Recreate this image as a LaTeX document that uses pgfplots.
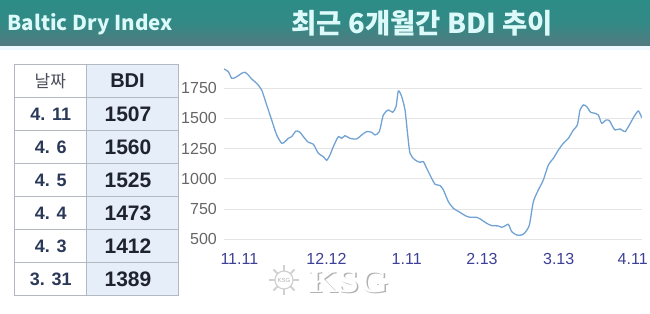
\documentclass[border=0pt]{standalone}
\usepackage{fontspec}
\usepackage{pgfplots}
\pgfplotsset{compat=1.18}
\setmainfont{Liberation Sans}
\newfontfamily\kr{Noto Sans CJK KR}
\newfontfamily\serifb{Liberation Serif}
\definecolor{hdtop}{HTML}{2C8C86}
\definecolor{hdbot}{HTML}{557A80}
\definecolor{hdtext}{HTML}{DDFAFB}
\definecolor{bdibg}{HTML}{E6EEFA}
\definecolor{tblline}{HTML}{B4B8C0}
\definecolor{datecol}{HTML}{2B3959}
\definecolor{valcol}{HTML}{1F2330}
\definecolor{ylab}{HTML}{666666}
\definecolor{xlab}{HTML}{3D4096}
\definecolor{linec}{HTML}{72A3D3}
\begin{document}
\begin{tikzpicture}[x=1pt,y=1pt]
\path[use as bounding box] (0,0) rectangle (650,313);
\fill[white] (0,0) rectangle (650,313);
% header
\shade[top color=hdtop, bottom color=hdbot, middle color=hdtop!85!hdbot] (0,267) rectangle (650,313);
\fill[cyan!6] (0,263) rectangle (650,267);
\node[anchor=base west, inner sep=0pt, text=hdtext] at (7.5,282.3) {\resizebox{165pt}{17pt}{\kr\bfseries Baltic Dry Index}};
\node[anchor=base west, inner sep=0pt, text=hdtext] at (291.5,279.7) {\resizebox{261pt}{!}{\kr\bfseries 최근 6개월간 BDI 추이}};
% table
\fill[bdibg] (86,17.5) rectangle (178,248.5);
\foreach \yy in {215.5,182.5,149.5,116.5,83.5,50.5} {\draw[tblline, line width=0.8pt] (14.7,\yy) -- (178,\yy);}
\draw[tblline, line width=0.8pt] (86,17.5) -- (86,248.5);
\draw[tblline, line width=0.8pt] (14.7,17.5) rectangle (178,248.5);
\node[text=valcol!80] at (50.3,232) {\kr\fontsize{17}{17}\selectfont 날짜};
\node[text=valcol] at (127.5,232) {\fontsize{20}{20}\selectfont\bfseries BDI};
\foreach \d/\v [count=\i] in {4. 11/1507, 4. 6/1560, 4. 5/1525, 4. 4/1473, 4. 3/1412, 3. 31/1389} {
  \node[text=datecol] at (50.8,232-33*\i) {\fontsize{18}{18}\selectfont\bfseries \d};
  \node[text=valcol] at (128,232-33*\i) {\fontsize{21}{21}\selectfont\bfseries \v};
}
% watermark
\node[inner sep=0pt, anchor=base west] at (308,21) {\rlap{\kern1.5pt\raisebox{-1.5pt}{\color{black!30}\resizebox{80pt}{21pt}{\serifb\bfseries KSG}}}\color{white}\resizebox{80pt}{21pt}{\serifb\bfseries KSG}};
\fill[white] (284,33) circle (11);
\draw[black!18, line width=1.2pt] (284,33) circle (9);
\foreach \a in {0,45,...,315} {\draw[black!18, line width=2pt] (284,33) ++(\a:9) -- ++(\a:6);}
\node[text=black!30, inner sep=0pt] at (284,33) {\fontsize{6}{6}\selectfont KSG};
% chart
\begin{axis}[
  at={(224pt,70.4pt)}, anchor=south west,
  scale only axis, width=417.7pt, height=176pt,
  xmin=162, xmax=1415, ymin=470, ymax=1930,
  axis line style={draw=none},
  major tick length=0pt,
  ytick={500,750,1000,1250,1500,1750},
  ymajorgrids, grid style={black!10, line width=0.6pt},
  xtick={208,469.5,710,936,1166,1388},
  xticklabels={11.11,12.12,1.11,2.13,3.13,4.11},
  tick label style={inner sep=0pt, font=\fontsize{16}{16}\selectfont},
  yticklabel style={text=ylab, anchor=east, xshift=-7pt},
  xticklabel style={text=xlab, anchor=north, yshift=-11pt},
  /pgf/number format/assume math mode=true,
  /pgf/number format/1000 sep={},
  clip=false,
]
\addplot[linec, line width=1.3pt, smooth, tension=0.4] coordinates {
(162,1910) (175,1888) (185,1833) (195,1838) (205,1855) (215,1874) (225,1883) (235,1860) (245,1827) (260,1791) (275,1736) (290,1612) (305,1487) (320,1363) (335,1294) (345,1308) (355,1335) (365,1349) (378,1396) (390,1385) (400,1349) (415,1302) (430,1286) (445,1211) (460,1183) (470,1153) (480,1197) (490,1266) (505,1349) (515,1335) (525,1357) (540,1335) (560,1330) (575,1363) (590,1391) (605,1385) (615,1363) (628,1391) (640,1529) (655,1570) (668,1551) (678,1598) (685,1728) (695,1681) (705,1570) (712,1391) (720,1211) (735,1156) (750,1136) (760,1142) (770,1086) (785,1003) (795,954) (810,943) (820,907) (835,810) (850,755) (870,721) (885,694) (900,680) (920,680) (935,658) (950,630) (965,611) (985,608) (995,597) (1005,608) (1015,622) (1025,561) (1040,533) (1055,533) (1065,553) (1078,616) (1090,810) (1105,907) (1120,990) (1135,1114) (1150,1169) (1165,1238) (1180,1294) (1195,1335) (1210,1404) (1222,1446) (1230,1570) (1240,1612) (1250,1598) (1262,1551) (1275,1543) (1285,1529) (1295,1460) (1308,1487) (1318,1482) (1328,1432) (1335,1404) (1350,1413) (1365,1391) (1378,1446) (1392,1515) (1405,1562) (1415,1507)
};
\end{axis}
\end{tikzpicture}
\end{document}
